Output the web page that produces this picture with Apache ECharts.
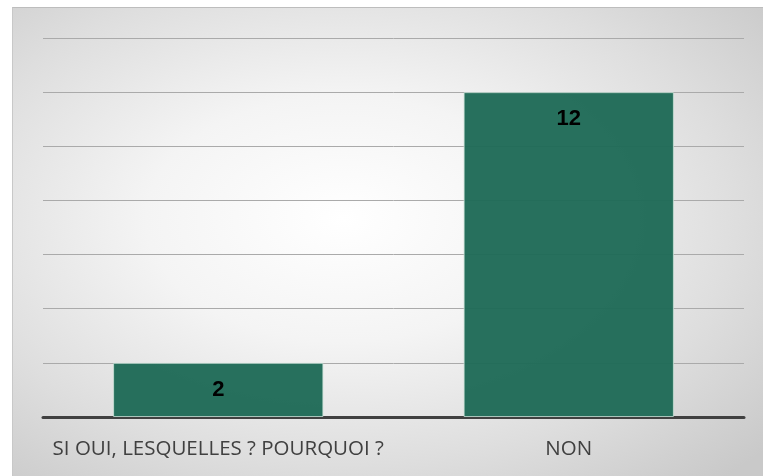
<!DOCTYPE html>
<html>
<head>
<meta charset="utf-8">
<script src="https://cdn.jsdelivr.net/npm/echarts@6/dist/echarts.min.js"></script>
<style>
  html, body { margin: 0; padding: 0; background: #fff; }
  #chart {
    position: absolute; left: 12px; top: 7px;
    width: 751px; height: 469px;
    border-top: 1px solid #bdbdbd;
    border-left: 1px solid #c8c8c8;
    box-sizing: border-box;
    background: radial-gradient(ellipse 75% 75% at 44% 45%, #ffffff 0%, #f4f4f4 35%, #dedede 70%, #c9c9c9 100%);
  }
</style>
</head>
<body>
<div id="chart"></div>
<script>
// catégories et valeurs
const categories = ['SI OUI, LESQUELLES ? POURQUOI ?', 'NON'];
const values = [2, 12];

const chart = echarts.init(document.getElementById('chart'));

const option = {
    backgroundColor: 'transparent',
    animation: false,
    grid: { left: 30, right: 19, top: 30, bottom: 59 },
    xAxis: {
        type: 'category',
        data: categories,
        axisTick: { show: false },
        axisLine: { lineStyle: { color: '#404040', width: 3 } },
        axisLabel: {
            interval: 0,
            color: '#404040',
            fontFamily: 'Open Sans',
            fontSize: 20.5,
            margin: 22
        }
    },
    yAxis: {
        type: 'value',
        min: 0,
        max: 14,
        interval: 2,
        axisLabel: { show: false },
        axisLine: { show: false },
        axisTick: { show: false },
        splitLine: { lineStyle: { color: '#aaaaaa', width: 1 } }
    },
    series: [{
        type: 'bar',
        data: values,
        barCategoryGap: '40%',
        itemStyle: {
            color: 'rgba(30,106,86,0.96)',
            borderColor: 'rgba(200,225,215,0.8)',
            borderWidth: 1
        },
        label: {
            show: true,
            position: 'insideTop',
            distance: 16,
            color: '#000',
            fontWeight: 'bold',
            fontFamily: 'Liberation Sans',
            fontSize: 22
        }
    }]
};
chart.setOption(option);
</script>
</body>
</html>
